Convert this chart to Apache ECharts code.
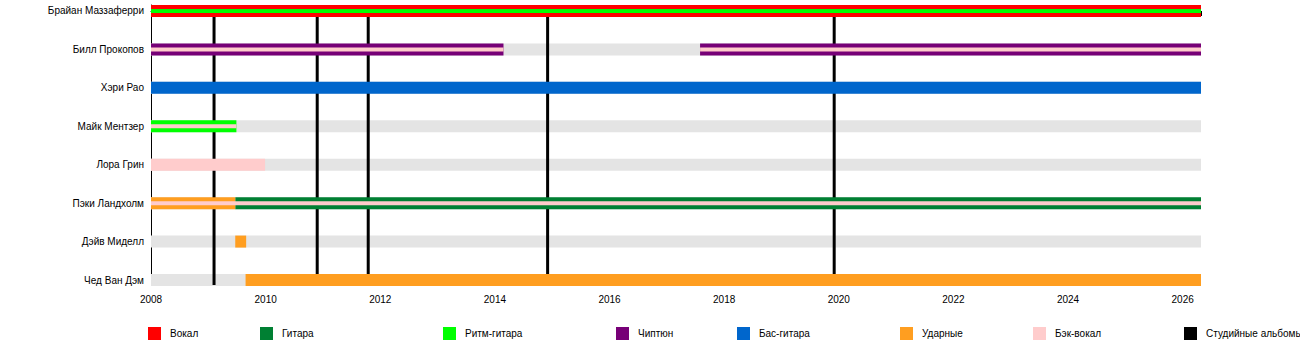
<!DOCTYPE html>
<html>
<head>
<meta charset="utf-8">
<script src="https://cdn.jsdelivr.net/npm/echarts@6/dist/echarts.min.js"></script>
<style>
html,body{margin:0;padding:0;background:#fff;}
#chart{width:1300px;height:355px;}
</style>
</head>
<body>
<div id="chart"></div>
<script>
// ---- data ----
const members = ['Брайан Маззаферри','Билл Прокопов','Хэри Рао','Майк Ментзер','Лора Грин','Пэки Ландхолм','Дэйв Миделл','Чед Ван Дэм'];
const START = 2008;
const END = 2026.32;
const tickYears = [2008,2010,2012,2014,2016,2018,2020,2022,2024,2026];
const roleNames = ['Вокал','Гитара','Ритм-гитара','Чиптюн','Бас-гитара','Ударные','Бэк-вокал'];
const roleColors = ['#FF0000','#008033','#00FF00','#770077','#0066CC','#FF9E20','#FFCCCC'];
const albumName = 'Студийные альбомы';
const albumColor = '#000000';
const albums = [2009.10, 2010.90, 2011.79, 2014.92, 2019.92];
// [memberIndex, from, to, stripe(0 = full bar, 1 = thin inner stripe)]
const vocals   = [[0, 2008, END, 0]];
const guitar   = [[5, 2009.47, END, 0]];
const rhythm   = [[3, 2008, 2009.49, 0], [0, 2008, END, 1]];
const chiptune = [[1, 2008, 2014.15, 0], [1, 2017.58, END, 0]];
const bass     = [[2, 2008, END, 0]];
const drums    = [[5, 2008, 2009.47, 0], [6, 2009.47, 2009.66, 0], [7, 2009.65, END, 0]];
const backing  = [[4, 2008, 2009.99, 0], [1, 2008, 2014.15, 1], [1, 2017.58, END, 1], [3, 2008, 2009.49, 1], [5, 2008, END, 1]];
const roleData = [vocals, guitar, rhythm, chiptune, bass, drums, backing];
const legendLefts = [148, 260, 443, 616, 737, 900, 1033, 1184];
// ---------------

const FONT = '"Liberation Sans", Arial, sans-serif';
const FS = 10;
const BAR_H = 12, STRIPE_H = 4;

function barRender(params, api) {
  const row = api.value(0);
  const p0 = api.coord([api.value(1), row]);
  const p1 = api.coord([api.value(2), row]);
  const stripe = api.value(3) === 1;
  const h = stripe ? STRIPE_H : BAR_H;
  return {
    type: 'rect',
    shape: { x: p0[0], y: p0[1] - h / 2, width: p1[0] - p0[0], height: h },
    style: { fill: api.visual('color') },
    z2: stripe ? 10 : 1
  };
}

const series = [];
series.push({
  type: 'custom', name: 'bg', z: 1, silent: true,
  itemStyle: { color: '#E4E4E4' },
  renderItem: barRender,
  data: members.map((m, i) => [i, START, END, 0])
});
series.push({
  type: 'custom', name: albumName, z: 2, silent: true,
  itemStyle: { color: albumColor },
  renderItem: function (params, api) {
    const cs = params.coordSys;
    const x = api.coord([api.value(0), 0])[0];
    return { type: 'rect', shape: { x: x - 1.5, y: cs.y, width: 3, height: cs.height }, style: { fill: api.visual('color') } };
  },
  data: albums.map(a => [a])
});
roleNames.forEach((n, i) => {
  series.push({
    type: 'custom', name: n, z: 3, silent: true,
    itemStyle: { color: roleColors[i] },
    renderItem: barRender,
    data: roleData[i]
  });
});

const legendItems = roleNames.concat([albumName]);
const legends = legendItems.map((n, i) => ({
  data: [n],
  left: legendLefts[i],
  top: 327,
  padding: 0,
  icon: 'rect',
  itemWidth: 13,
  itemHeight: 13,
  selectedMode: false,
  textStyle: { fontFamily: FONT, fontSize: FS, color: '#000', padding: [0, 0, 0, 4] }
}));

const chart = echarts.init(document.getElementById('chart'), null, { renderer: 'svg' });
chart.setOption({
  animation: false,
  backgroundColor: '#fff',
  grid: { left: 151, right: 99, top: 5, bottom: 70, containLabel: false },
  legend: legends,
  xAxis: {
    type: 'value', min: START, max: END, interval: 2,
    axisLine: { show: true, lineStyle: { color: '#000', width: 1 } },
    axisTick: { show: true, length: 5, lineStyle: { color: '#000' } },
    minorTick: { show: true, splitNumber: 2, length: 3, lineStyle: { color: '#000' } },
    splitLine: { show: false },
    minorSplitLine: { show: false },
    axisLabel: {
      fontFamily: FONT, fontSize: FS, color: '#000', margin: 9,
      formatter: v => (tickYears.indexOf(v) >= 0 ? String(v) : '')
    }
  },
  yAxis: {
    type: 'value', inverse: true, min: -0.156, max: 7.13,
    axisLine: { show: true, lineStyle: { color: '#000', width: 1 } },
    axisTick: { show: false },
    splitLine: { show: false },
    axisLabel: {
      customValues: members.map((m, i) => i),
      fontFamily: FONT, fontSize: FS, color: '#000', margin: 7,
      formatter: v => members[v] || ''
    }
  },
  series: series
});
</script>
</body>
</html>
